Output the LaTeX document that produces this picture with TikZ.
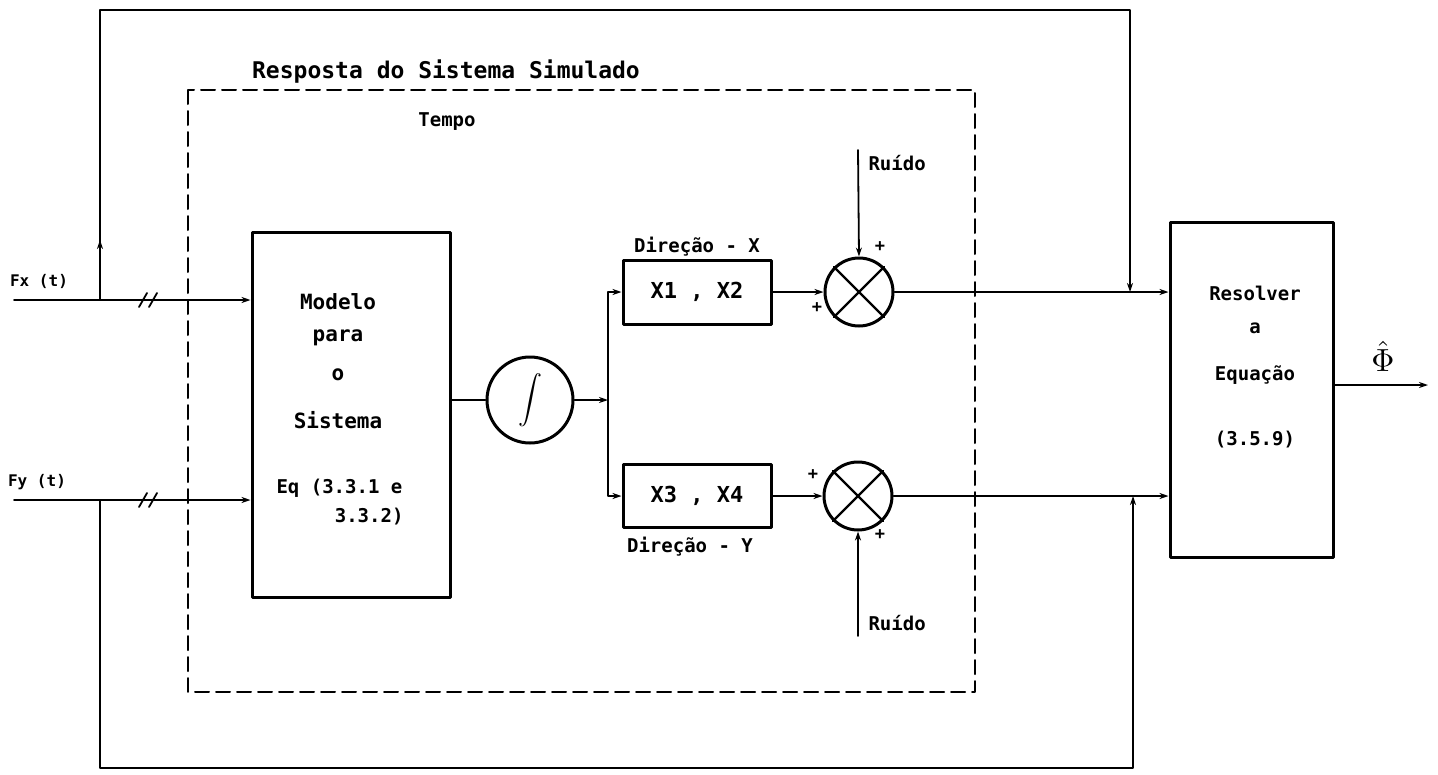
\documentclass[tikz,border=0pt]{standalone}
\usepackage{fontspec}
\newfontfamily\lettering{DejaVu Sans Mono}
\usetikzlibrary{arrows.meta}

\begin{document}
\begin{tikzpicture}[x=1pt,y=-1pt,line cap=round,line join=round,
  >={Stealth[length=9pt,width=6pt]},
  wire/.style={line width=1.8pt},
  blockbox/.style={draw,line width=3pt,inner sep=0pt},
  sumnode/.style={circle,draw,line width=3pt,minimum size=68pt,inner sep=0pt},
  lbl/.style={font=\lettering\bfseries\fontsize{19}{21}\selectfont},
  big/.style={font=\lettering\bfseries\fontsize{21}{23}\selectfont},
  small/.style={font=\lettering\bfseries\fontsize{16}{18}\selectfont},
  sign/.style={font=\lettering\bfseries\fontsize{17}{17}\selectfont,inner sep=0pt}]

\useasboundingbox (0,0) rectangle (1438,774);

% Simulated system frame.
\draw[line width=2pt,dash pattern=on 14pt off 7pt] (188,90) rectangle (975,692);
\node[font=\lettering\bfseries\fontsize{23}{25}\selectfont] (title) at (446,72)
  {Resposta do Sistema Simulado};
\node[lbl] (tempo) at (447,122) {Tempo};

% Inputs.
\coordinate (fxin) at (14,300);
\coordinate (fyin) at (14,500);
\coordinate (fxtap) at (100,300);
\coordinate (fytap) at (100,500);
\node[small] (fx) at (39,281) {Fx (t)};
\node[small] (fy) at (37,482) {Fy (t)};

% Model of the system.
\node[blockbox,minimum width=198pt,minimum height=365pt] (model) at (351,414.5) {};
\foreach \t/\y/\n in {Modelo/302/m1,para/338/m2,o/375/m3,Sistema/420/m4}
  \node[big] (\n) at (338,\y) {\t};
\node[lbl,anchor=west] (m5) at (273,488) {Eq (3.3.1 e};
\node[lbl,anchor=east] (m6) at (407,517) {3.3.2)};

\node[sumnode,minimum size=86pt] (int) at (530,400)
  {\scalebox{2.4}{$\displaystyle\int$}};
\coordinate (split) at (608,400);

% Both directions with noise.
\node[blockbox,font=\lettering\bfseries\fontsize{22}{24}\selectfont,
  minimum width=148pt,minimum height=64pt] (x12) at (697,292) {X1 , X2};
\node[blockbox,font=\lettering\bfseries\fontsize{22}{24}\selectfont,
  minimum width=148pt,minimum height=63pt] (x34) at (697,496) {X3 , X4};
\node[lbl] (dirx) at (697,247) {Direção - X};
\node[lbl] (diry) at (690,547) {Direção - Y};
\node[sumnode] (s1) at (859,292) {};
\node[sumnode] (s2) at (858,496) {};
\foreach \s in {s1,s2}
{
  \draw[line width=2.4pt] (\s.north west) -- (\s.south east);
  \draw[line width=2.4pt] (\s.north east) -- (\s.south west);
}
\foreach \x/\y/\n in {817/308/p1,880/247/p2,813/475/p3,880/535/p4}
  \node[sign] (\n) at (\x,\y) {+};
\coordinate (n1) at (858,150);
\coordinate (n2) at (858,636);
\node[lbl,anchor=west] (r1) at (865,163) {Ruído};
\node[lbl,anchor=west] (r2) at (865,623) {Ruído};

% Solver block.
\node[blockbox,minimum width=163pt,minimum height=335pt] (res) at (1251.5,389.5) {};
\foreach \t/\y/\n in {Resolver/293/e1,a/328/e2,Equação/375/e3,(3.5.9)/440/e4}
  \node[lbl] (\n) at (1255,\y) {\t};
\coordinate (phiout) at (1428,385);
\node[inner sep=0pt] (phi) at (1383,356) {\scalebox{3.2}{$\hat{\Phi}$}};

% Signal flow.
\draw[wire,->] (fxin) -- (fxin-|model.west);
\draw[wire,->] (fyin) -- (fyin-|model.west);
\foreach \y in {300,500}
  \foreach \dx in {0,10}
    \draw[wire] (139+\dx,\y+7) -- (147+\dx,\y-7);
\draw[wire] (int.west-|model.east) -- (int.west);
\draw[wire,->] (int.east) -- (split);
\draw[wire,->] (split) |- (x12.west);
\draw[wire,->] (split) |- (x34.west);
\draw[wire,->] (x12.east) -- (s1.west);
\draw[wire,->] (x34.east) -- (s2.west);
\draw[wire,->] (n1) -- (s1.north);
\draw[wire,->] (n2) -- (s2.south);
\draw[wire,->] (s1.east) -- (s1.east-|res.west);
\draw[wire,->] (s2.east) -- (s2.east-|res.west);
\draw[wire,->] (res.east|-phiout) -- (phiout);

% Forces fed straight to the solver.
\coordinate (topleft) at (100,10);
\coordinate (botleft) at (100,768);
\coordinate (fxmid) at (100,240);
\coordinate (fbx) at (1130,292);
\coordinate (fby) at (1133,496);
\draw[wire,->] (fxtap) -- (fxmid);
\draw[wire,->] (fxtap) -- (topleft) -| (fbx);
\draw[wire,->] (fytap) -- (botleft) -| (fby);
\end{tikzpicture}
\end{document}
